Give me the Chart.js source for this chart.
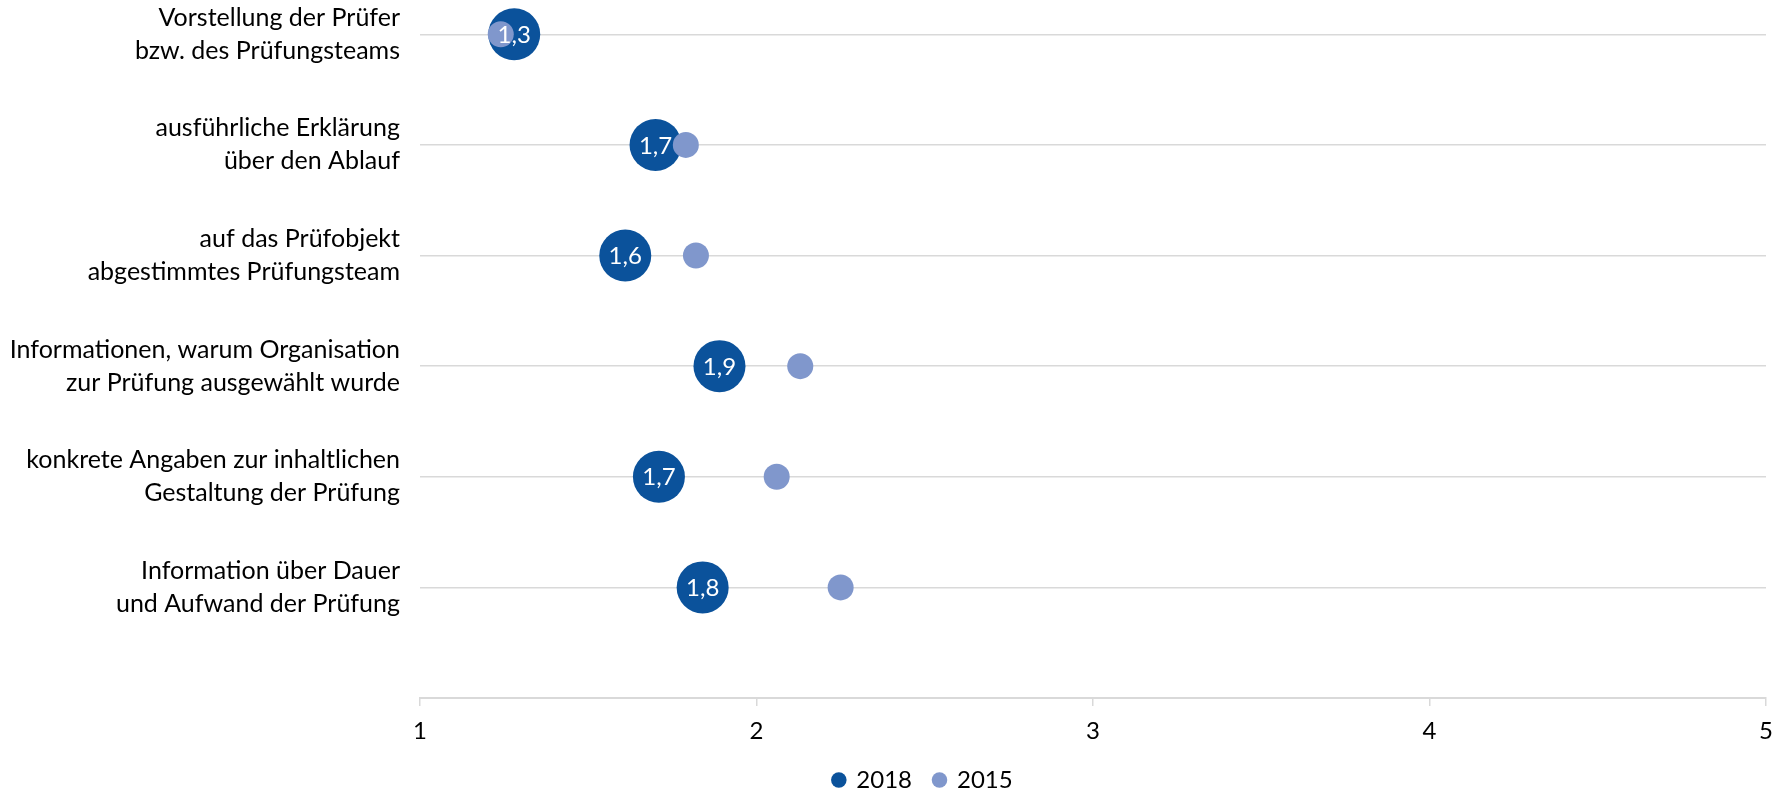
<!DOCTYPE html>
<html>
<head>
<meta charset="utf-8">
<script src="https://cdn.jsdelivr.net/npm/chart.js@4.4.0/dist/chart.umd.min.js"></script>
<style>
  html, body { margin: 0; padding: 0; background: #fff; }
  #wrap { width: 1781px; height: 792px; }
</style>
</head>
<body>
<div id="wrap"><canvas id="dotChart"></canvas></div>
<script>
// Kategorien (von oben nach unten)
const categories = [
  ["Vorstellung der Prüfer", "bzw. des Prüfungsteams"],
  ["ausführliche Erklärung", "über den Ablauf"],
  ["auf das Prüfobjekt", "abgestimmtes Prüfungsteam"],
  ["Informationen, warum Organisation", "zur Prüfung ausgewählt wurde"],
  ["konkrete Angaben zur inhaltlichen", "Gestaltung der Prüfung"],
  ["Information über Dauer", "und Aufwand der Prüfung"],
];
const values2018 = [1.28, 1.70, 1.61, 1.89, 1.71, 1.84];
const values2015 = [1.24, 1.79, 1.82, 2.13, 2.06, 2.25];
const seriesNames = ["2018", "2015"];
const xTicks = [1, 2, 3, 4, 5];

// Zeilenposition: erste Kategorie oben
const rowPos = categories.map((c, i) => categories.length - i);

const FONT = { family: "Lato", size: 24 };

// Werte in den großen Blasen (deutsches Dezimalkomma)
const bubbleLabels = {
  id: "bubbleLabels",
  afterDatasetsDraw(chart) {
    const ctx = chart.ctx;
    const meta = chart.getDatasetMeta(0);
    ctx.save();
    ctx.fillStyle = "#ffffff";
    ctx.font = "24px Lato";
    ctx.textAlign = "center";
    ctx.textBaseline = "middle";
    meta.data.forEach((el, i) => {
      ctx.fillText(values2018[i].toFixed(1).replace(".", ","), el.x, el.y + 1);
    });
    ctx.restore();
  },
};

// Legende etwas nach rechts schieben (wie im Original)
const legendShift = {
  id: "legendShift",
  afterLayout(chart) {
    chart.legend.left += 40;
    chart.legend.right += 40;
  },
};

const ctx = document.getElementById("dotChart").getContext("2d");

new Chart(ctx, {
  type: "bubble",
  data: {
    datasets: [
      {
        label: seriesNames[0],
        data: values2018.map((v, i) => ({ x: v, y: rowPos[i] })),
        backgroundColor: "#0B529B",
        borderWidth: 0,
        radius: 26,
        hoverRadius: 0,
        order: 2,
      },
      {
        label: seriesNames[1],
        data: values2015.map((v, i) => ({ x: v, y: rowPos[i] })),
        backgroundColor: "#8097CC",
        borderWidth: 0,
        radius: 13,
        hoverRadius: 0,
        order: 1,
      },
    ],
  },
  options: {
    responsive: true,
    maintainAspectRatio: false,
    animation: false,
    events: [],
    clip: false,
    layout: { autoPadding: false, padding: { left: 0, right: 15, top: 0, bottom: -10 } },
    plugins: {
      legend: {
        position: "bottom",
        labels: {
          usePointStyle: true,
          pointStyle: "circle",
          boxWidth: 11,
          boxHeight: 11,
          padding: 22,
          color: "#000",
          font: FONT,
          sort: (a, b) => a.datasetIndex - b.datasetIndex,
        },
      },
      tooltip: { enabled: false },
    },
    scales: {
      x: {
        type: "linear",
        min: 1,
        max: 5,
        afterBuildTicks: (scale) => {
          scale.ticks = xTicks.map((v) => ({ value: v }));
        },
        afterFit: (scale) => {
          scale.height = 48;
          scale.paddingLeft = 0;
          scale.paddingRight = 0;
        },
        ticks: { color: "#000", font: FONT, padding: 11 },
        grid: {
          drawOnChartArea: false,
          drawTicks: true,
          tickLength: 8,
          color: "#d9d9d9",
          lineWidth: 1.5,
        },
        border: { color: "#d9d9d9", width: 2 },
      },
      y: {
        type: "linear",
        min: 0,
        max: 6.31,
        afterBuildTicks: (scale) => {
          scale.ticks = rowPos.map((v) => ({ value: v }));
        },
        afterFit: (scale) => {
          scale.width = 420;
          scale.paddingTop = 0;
          scale.paddingBottom = 0;
        },
        ticks: {
          color: "#000",
          font: { family: "Lato", size: 25, lineHeight: 1.32 },
          padding: 20,
          callback: (v) => categories[categories.length - Math.round(v)],
        },
        grid: { color: "#d9d9d9", lineWidth: 1.5, drawTicks: false },
        border: { display: false },
      },
    },
  },
  plugins: [bubbleLabels, legendShift],
});
</script>
</body>
</html>
